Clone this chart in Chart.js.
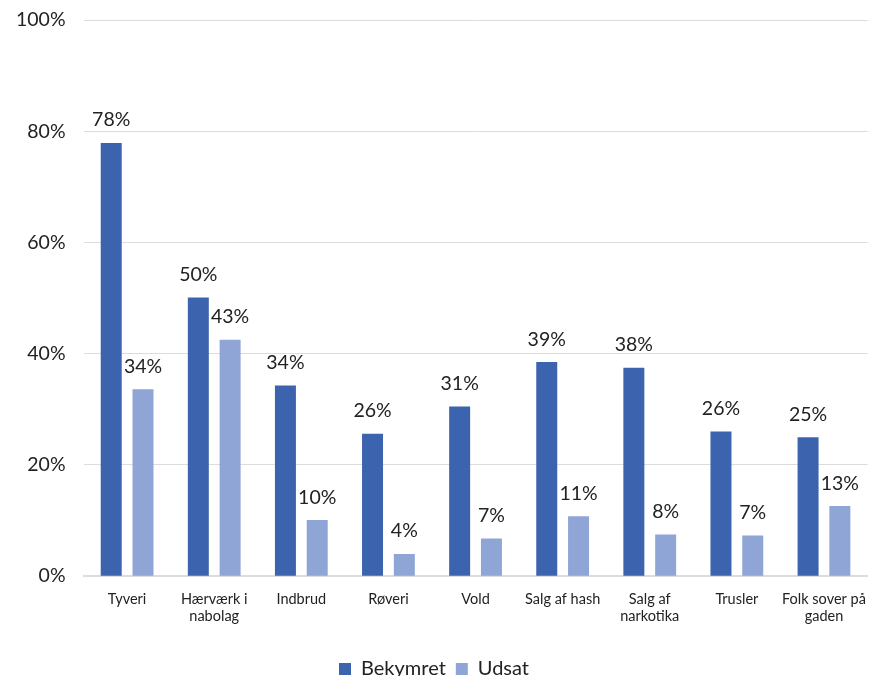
<!DOCTYPE html>
<html><head><meta charset="utf-8">
<script src="https://cdn.jsdelivr.net/npm/chart.js@4/dist/chart.umd.min.js"></script>
<style>html,body{margin:0;padding:0;background:#fff}#wrap{width:872px;height:676px}</style>
</head><body><div id="wrap"><canvas id="c" width="872" height="676"></canvas></div>
<script>
const categories = ["Tyveri", ["Hærværk i","nabolag"], "Indbrud", "Røveri", "Vold", "Salg af hash", ["Salg af","narkotika"], "Trusler", ["Folk sover på","gaden"]];
const bekymret = [77.9, 50.1, 34.3, 25.6, 30.5, 38.5, 37.5, 26.0, 25.0];
const udsat = [33.6, 42.5, 10.1, 4.0, 6.8, 10.8, 7.5, 7.3, 12.6];
const yTicks = [0, 20, 40, 60, 80, 100];
const FONT = "Lato, 'Open Sans', sans-serif";

const labelPlugin = {
  id: 'vals',
  afterDatasetsDraw(chart) {
    const ctx = chart.ctx;
    ctx.save();
    ctx.font = "19.5px " + FONT;
    ctx.fillStyle = "#222";
    ctx.textAlign = "center";
    ctx.textBaseline = "bottom";
    chart.data.datasets.forEach((ds, i) => {
      chart.getDatasetMeta(i).data.forEach((bar, j) => {
        ctx.fillText(Math.round(ds.data[j]) + "%", bar.x, bar.y - 13);
      });
    });
    ctx.restore();
  }
};

new Chart(document.getElementById('c'), {
  type: 'bar',
  data: {
    labels: categories,
    datasets: [
      {label: 'Bekymret', data: bekymret, backgroundColor: '#3c63ad', categoryPercentage: 0.73, barPercentage: 0.66},
      {label: 'Udsat', data: udsat, backgroundColor: '#8fa5d5', categoryPercentage: 0.73, barPercentage: 0.66}
    ]
  },
  options: {
    responsive: false,
    animation: false,
    layout: {padding: {left: -2, right: 2, top: 20, bottom: -13}},
    plugins: {
      legend: {
        position: 'bottom',
        labels: {boxWidth: 12, boxHeight: 12, padding: 10, color: '#222', font: {family: FONT, size: 20}}
      },
      tooltip: {enabled: false}
    },
    scales: {
      y: {
        min: 0, max: 100,
        afterBuildTicks(ax) { ax.ticks = yTicks.map(v => ({value: v})); },
        afterFit(s) { s.paddingTop = 0; s.paddingBottom = 0; },
        ticks: {callback: v => v + '%', color: '#222', padding: 18, font: {family: FONT, size: 19.5}},
        grid: {color: '#dcdcdc', drawTicks: false},
        border: {display: false}
      },
      x: {
        afterFit(s) { s.height += 18; },
        ticks: {color: '#222', font: {family: FONT, size: 14.5}, padding: 6, maxRotation: 0, autoSkip: false},
        grid: {display: false},
        border: {color: '#dcdcdc', width: 2}
      }
    }
  },
  plugins: [labelPlugin]
});
</script></body></html>
